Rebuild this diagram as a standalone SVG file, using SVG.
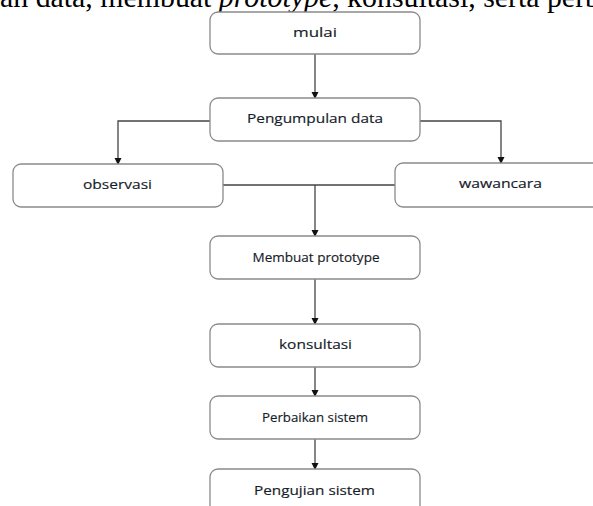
<svg xmlns="http://www.w3.org/2000/svg" width="593" height="506" viewBox="0 0 593 506">
<defs>
<style>
.box{fill:#fff;stroke:#8a8a8a;stroke-width:1.3}
.lbl{font-family:"Open Sans","Noto Sans",sans-serif;font-size:12.5px;fill:#161c2a;text-anchor:middle;stroke:#161c2a;stroke-width:0.15}
.con{fill:none;stroke:#444;stroke-width:1.3}
.head{font-family:"Liberation Serif","Times New Roman",serif;font-size:29px;fill:#000}
</style>
<marker id="ah" markerWidth="8" markerHeight="8" refX="6" refY="3.5" orient="auto" markerUnits="userSpaceOnUse">
<path d="M0,0 L7,3.5 L0,7 Z" fill="#111"/>
</marker>
</defs>
<rect width="593" height="506" fill="#fff"/>
<text class="head" x="0" y="7" textLength="600" lengthAdjust="spacingAndGlyphs">an data, membuat <tspan font-style="italic">prototype</tspan>, konsultasi, serta perb</text>

<g id="connectors">
<path class="con" d="M315,54 V98" marker-end="url(#ah)"/>
<path class="con" d="M210,121 H118 V164" marker-end="url(#ah)"/>
<path class="con" d="M420,121 H501 V163" marker-end="url(#ah)"/>
<path class="con" d="M223,185 H395"/>
<path class="con" d="M315,185 V236" marker-end="url(#ah)"/>
<path class="con" d="M315,279 V324" marker-end="url(#ah)"/>
<path class="con" d="M315,367 V396" marker-end="url(#ah)"/>
<path class="con" d="M315,439 V469" marker-end="url(#ah)"/>
</g>

<g id="mulai"><rect class="box" x="210" y="12" width="210" height="42" rx="8"/><text class="lbl" x="315" y="37" textLength="44" lengthAdjust="spacingAndGlyphs">mulai</text></g>
<g id="pengumpulan"><rect class="box" x="210" y="98" width="210" height="43" rx="8"/><text class="lbl" x="315" y="123" textLength="136" lengthAdjust="spacingAndGlyphs">Pengumpulan data</text></g>
<g id="observasi"><rect class="box" x="13" y="164" width="210" height="43" rx="8"/><text class="lbl" x="117.5" y="189" textLength="69" lengthAdjust="spacingAndGlyphs">observasi</text></g>
<g id="wawancara"><rect class="box" x="395" y="163" width="210" height="44" rx="8"/><text class="lbl" x="500.5" y="188" textLength="83" lengthAdjust="spacingAndGlyphs">wawancara</text></g>
<g id="prototype"><rect class="box" x="210" y="236" width="210" height="43" rx="8"/><text class="lbl" x="316" y="262" font-size="11.5" textLength="127" lengthAdjust="spacingAndGlyphs">Membuat prototype</text></g>
<g id="konsultasi"><rect class="box" x="210" y="324" width="210" height="43" rx="8"/><text class="lbl" x="315.5" y="349" textLength="73" lengthAdjust="spacingAndGlyphs">konsultasi</text></g>
<g id="perbaikan"><rect class="box" x="210" y="396" width="210" height="43" rx="8"/><text class="lbl" x="315" y="422" font-size="12" textLength="106" lengthAdjust="spacingAndGlyphs">Perbaikan sistem</text></g>
<g id="pengujian"><rect class="box" x="210" y="469" width="210" height="48" rx="8"/><text class="lbl" x="314.5" y="495" font-size="13" textLength="121" lengthAdjust="spacingAndGlyphs">Pengujian sistem</text></g>
</svg>
